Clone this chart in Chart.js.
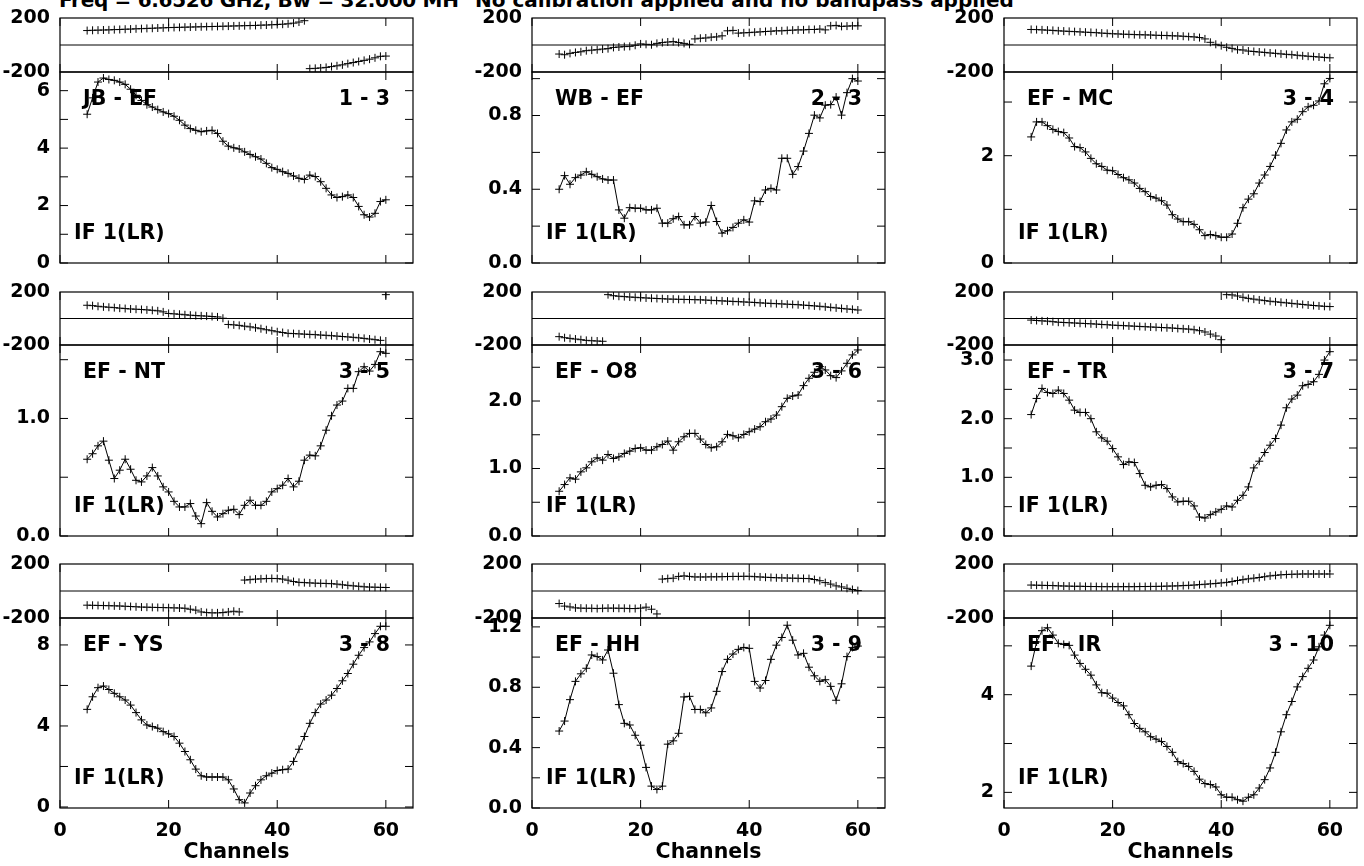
<!DOCTYPE html>
<html>
<head>
<meta charset="utf-8">
<script src="https://cdn.jsdelivr.net/npm/chart.js@4.4.0/dist/chart.umd.min.js"></script>
<style>
  body { margin: 0; background: #fff; width: 1364px; height: 866px; overflow: hidden; position: relative;
         font-family: "DejaVu Sans", sans-serif; font-weight: bold; color: #000; }
  canvas { position: absolute; }
  .lbl { position: absolute; font-size: 20.5px; line-height: 20.5px; white-space: nowrap; }
  .ttl { position: absolute; font-size: 20px; line-height: 20px; white-space: nowrap; top: -10px; }
</style>
</head>
<body>
<div class="ttl" style="left:59px; letter-spacing:-0.3px;">Freq = 6.6526 GHz, Bw = 32.000 MH</div>
<div class="ttl" style="left:475px;">No calibration applied and no bandpass applied</div>
<script>
// Channels
const channels = [5,6,7,8,9,10,11,12,13,14,15,16,17,18,19,20,21,22,23,24,25,26,27,28,29,30,
  31,32,33,34,35,36,37,38,39,40,41,42,43,44,45,46,47,48,49,50,51,52,53,54,55,56,57,58,59,60];

// Baselines
const pairNames = ['JB - EF', 'WB - EF', 'EF - MC', 'EF - NT', 'EF - O8', 'EF - TR', 'EF - YS', 'EF - HH', 'EF - IR'];
const pairNums = ['1 - 3', '2 - 3', '3 - 4', '3 - 5', '3 - 6', '3 - 7', '3 - 8', '3 - 9', '3 - 10'];

// Amplitude axis ranges and ticks
const ampMin = [0, 0, 0, 0, 0, 0, -0.05, 0, 1.68];
const ampMax = [6.65, 1.036, 3.56, 1.625, 2.83, 3.256, 9.33, 1.259, 5.57];
const ampStep = [1, 0.2, 1, 0.5, 0.5, 0.5, 2, 0.2, 1];
const ampDecimals = [0, 1, 0, 1, 1, 1, 0, 1, 0];
const phaseTicks = [-200, 0, 200];
const xTicks = [0, 20, 40, 60];

// Amplitudes
const ampJBEF = [5.18,5.75,6.30,6.44,6.39,6.36,6.30,6.22,6.05,5.84,5.66,5.51,5.43,5.34,5.26,5.20,5.11,4.97,4.80,4.68,
  4.62,4.57,4.60,4.62,4.51,4.24,4.07,4.01,3.97,3.87,3.78,3.70,3.62,3.47,3.32,3.26,3.18,3.12,3.03,2.95,
  2.91,3.06,3.01,2.83,2.60,2.37,2.28,2.31,2.37,2.28,1.97,1.68,1.60,1.73,2.14,2.20];
const ampWBEF = [0.40,0.474,0.427,0.463,0.477,0.495,0.481,0.468,0.456,0.45,0.45,0.288,0.243,0.30,0.297,0.297,0.288,0.288,0.297,0.216,
  0.216,0.24,0.252,0.207,0.207,0.252,0.216,0.222,0.312,0.225,0.162,0.175,0.193,0.216,0.234,0.222,0.337,0.333,0.396,0.405,
  0.396,0.568,0.568,0.481,0.523,0.607,0.703,0.802,0.787,0.856,0.859,0.90,0.802,0.924,1.0,0.987];
const ampEFMC = [2.35,2.63,2.63,2.56,2.49,2.45,2.43,2.33,2.17,2.15,2.07,1.95,1.85,1.80,1.73,1.72,1.65,1.59,1.55,1.49,
  1.39,1.33,1.24,1.21,1.16,1.08,0.90,0.82,0.77,0.77,0.72,0.62,0.51,0.53,0.51,0.48,0.48,0.54,0.74,1.03,
  1.19,1.29,1.49,1.64,1.80,2.01,2.23,2.48,2.63,2.68,2.82,2.91,2.94,3.02,3.34,3.44];
const ampEFNT = [0.653,0.70,0.767,0.807,0.645,0.489,0.56,0.653,0.568,0.474,0.46,0.511,0.582,0.511,0.418,0.375,0.295,0.247,0.247,0.276,
  0.17,0.105,0.284,0.21,0.162,0.19,0.219,0.227,0.182,0.261,0.304,0.261,0.261,0.295,0.375,0.403,0.432,0.489,0.418,0.466,
  0.645,0.688,0.682,0.767,0.90,1.023,1.114,1.148,1.256,1.256,1.398,1.44,1.403,1.46,1.568,1.554];
const ampEFO8 = [0.663,0.762,0.861,0.842,0.95,1.01,1.099,1.158,1.124,1.208,1.149,1.173,1.223,1.257,1.297,1.307,1.272,1.272,1.322,1.356,
  1.406,1.272,1.396,1.47,1.52,1.52,1.436,1.356,1.307,1.322,1.396,1.505,1.485,1.455,1.505,1.545,1.584,1.619,1.693,1.733,
  1.792,1.916,2.04,2.074,2.089,2.228,2.337,2.426,2.51,2.46,2.376,2.347,2.446,2.559,2.683,2.757];
const ampEFTR = [2.07,2.345,2.516,2.447,2.43,2.487,2.43,2.316,2.146,2.106,2.106,2.0,1.776,1.673,1.616,1.49,1.349,1.218,1.264,1.252,
  1.064,0.865,0.837,0.865,0.876,0.808,0.666,0.581,0.592,0.592,0.512,0.324,0.307,0.364,0.41,0.455,0.512,0.495,0.609,0.694,
  0.837,1.161,1.275,1.423,1.548,1.662,1.89,2.186,2.334,2.402,2.561,2.584,2.63,2.755,2.999,3.142];
const ampEFYS = [4.82,5.44,5.89,5.97,5.80,5.61,5.44,5.28,5.03,4.66,4.30,4.05,3.97,3.89,3.72,3.61,3.48,3.15,2.74,2.33,
  1.87,1.54,1.48,1.48,1.48,1.48,1.34,0.89,0.36,0.20,0.69,1.05,1.34,1.54,1.67,1.80,1.84,1.87,2.25,2.85,
  3.48,4.13,4.66,5.08,5.28,5.52,5.85,6.23,6.59,7.05,7.49,7.87,8.15,8.56,8.92,8.92];
const ampEFHH = [0.51,0.576,0.718,0.839,0.889,0.926,1.014,1.003,0.981,1.047,0.893,0.685,0.561,0.55,0.482,0.416,0.269,0.145,0.123,0.145,
  0.423,0.445,0.495,0.736,0.74,0.653,0.653,0.631,0.663,0.773,0.904,0.985,1.02,1.051,1.064,1.058,0.839,0.795,0.845,0.985,
  1.079,1.13,1.211,1.112,1.014,1.025,0.933,0.876,0.839,0.85,0.806,0.714,0.823,1.003,1.064,1.073];
const ampEFIR = [4.585,5.08,5.31,5.37,5.22,5.05,5.03,5.01,4.81,4.64,4.52,4.40,4.20,4.04,4.03,3.93,3.84,3.77,3.59,3.41,
  3.31,3.24,3.14,3.09,3.04,2.94,2.82,2.63,2.59,2.53,2.43,2.27,2.18,2.16,2.11,1.95,1.90,1.90,1.85,1.82,
  1.90,1.95,2.09,2.26,2.50,2.82,3.24,3.59,3.86,4.16,4.37,4.54,4.71,4.98,5.22,5.42];

// Phases (degrees)
const phJBEF = [107,109,110,111,112,114,115,117,118,120,121,123,124,126,127,129,130,131,132,133,
  134,135,136,137,138,139,140,141,142,143,144,145,147,148,150,152,154,157,162,170,
  180,-175,-173,-170,-166,-160,-154,-147,-138,-130,-122,-114,-105,-95,-84,-82];
const phWBEF = [-67,-72,-62,-55,-50,-42,-38,-35,-30,-27,-18,-15,-12,-10,-2,8,5,2,12,18,
  22,25,18,12,5,45,50,52,58,60,68,105,108,88,90,92,95,97,100,102,
  105,105,108,110,112,112,115,115,118,112,142,145,138,140,142,142];
const phEFMC = [115,114,112,110,108,105,103,101,99,97,95,93,91,88,86,83,82,80,79,77,
  76,75,74,72,71,70,68,67,65,62,60,55,45,20,5,-5,-17,-25,-35,-37,
  -45,-48,-52,-55,-59,-62,-66,-69,-72,-76,-80,-83,-86,-89,-92,-95];
const phEFNT = [100,97,92,88,85,82,78,75,72,70,68,65,62,58,50,38,35,32,28,25,
  22,20,18,15,12,2,-45,-48,-52,-58,-63,-70,-77,-85,-92,-100,-106,-112,-114,-116,
  -118,-120,-122,-125,-127,-130,-133,-136,-139,-142,-146,-150,-155,-160,-165,180];
const phEFO8 = [-137,-145,-150,-155,-160,-165,-168,-170,-172,180,172,168,165,162,160,157,155,153,151,149,
  147,146,145,144,143,142,141,139,137,135,133,131,129,127,125,123,121,118,116,114,
  112,110,108,106,104,101,98,95,92,88,84,80,76,72,69,64];
const phEFTR = [-12,-15,-18,-20,-24,-28,-30,-32,-34,-36,-38,-40,-42,-45,-47,-50,-52,-54,-56,-58,
  -60,-62,-64,-66,-68,-70,-72,-75,-78,-80,-85,-92,-102,-118,-132,-160,180,178,170,160,
  152,146,140,135,130,126,122,118,114,110,106,102,98,95,92,90];
const phEFYS = [-105,-106,-107,-108,-109,-110,-111,-113,-115,-117,-119,-120,-121,-122,-123,-124,-125,-126,-128,-135,
  -142,-155,-160,-162,-162,-160,-155,-150,-155,81,84,88,90,92,93,92,88,80,70,64,
  62,60,58,57,56,54,51,46,42,38,35,31,29,28,27,26];
const phEFHH = [-93,-112,-118,-125,-127,-128,-128,-130,-128,-127,-127,-128,-128,-130,-130,-127,-120,-135,-170,88,
  92,95,108,112,108,104,104,104,105,105,106,107,108,108,109,109,106,104,102,100,
  98,97,96,95,94,93,92,85,76,62,51,38,30,20,11,3];
const phEFIR = [44,43,42,41,40,38,37,36,35,35,34,33,33,32,32,32,32,32,32,32,
  33,33,34,34,35,36,37,38,40,42,44,47,50,53,56,60,64,70,78,84,
  90,95,100,106,112,116,120,122,124,125,126,126,126,126,126,126];

const ampSeries = [ampJBEF, ampWBEF, ampEFMC, ampEFNT, ampEFO8, ampEFTR, ampEFYS, ampEFHH, ampEFIR];
const phaseSeries = [phJBEF, phWBEF, phEFMC, phEFNT, phEFO8, phEFTR, phEFYS, phEFHH, phEFIR];

// Layout (page pixels)
const colLeft = [60, 532, 1004];
const plotW = 353;
const phaseTop = [18, 292, 564];
const ampTop = [72, 345, 618];
const ampBot = [263, 536, 808];
const LEFT = 60, PADR = 12, PAD = 24, XAXIS_H = 57, TICK = 8;

const tickFont = { family: 'DejaVu Sans', size: 19, weight: 'bold' };
const titleFont = { family: 'DejaVu Sans', size: 20.5, weight: 'bold' };

// frame box, inward ticks, phase zero line
const frameTicks = {
  id: 'frameTicks',
  afterDatasetsDraw(chart, args, opts) {
    const { ctx, chartArea: a } = chart;
    const xs = chart.scales.x, ys = chart.scales.y;
    ctx.save();
    ctx.strokeStyle = '#000';
    ctx.lineWidth = 1;
    ctx.beginPath();
    xs.ticks.forEach(t => {
      const px = xs.getPixelForValue(t.value);
      ctx.moveTo(px, a.top); ctx.lineTo(px, a.top + TICK);
      ctx.moveTo(px, a.bottom); ctx.lineTo(px, a.bottom - TICK);
    });
    if (opts.phase) {
      const py = ys.getPixelForValue(0);
      ctx.moveTo(a.left, py); ctx.lineTo(a.right, py);
    } else {
      ys.ticks.forEach(t => {
        const py = ys.getPixelForValue(t.value);
        ctx.moveTo(a.left, py); ctx.lineTo(a.left + TICK, py);
        ctx.moveTo(a.right, py); ctx.lineTo(a.right - TICK, py);
      });
    }
    ctx.stroke();
    ctx.lineWidth = 1.2;
    ctx.strokeRect(a.left, a.top, a.right - a.left, a.bottom - a.top);
    ctx.restore();
  }
};

function addCanvas(left, top, w, h) {
  const cv = document.createElement('canvas');
  cv.width = w; cv.height = h;
  cv.style.left = left + 'px'; cv.style.top = top + 'px';
  cv.style.width = w + 'px'; cv.style.height = h + 'px';
  document.body.appendChild(cv);
  return cv;
}

function addLabel(text, x, capCenter, alignRight) {
  const d = document.createElement('div');
  d.className = 'lbl';
  d.textContent = text;
  d.style.top = (capCenter - 10) + 'px';
  if (alignRight) d.style.right = (1364 - x) + 'px'; else d.style.left = x + 'px';
  document.body.appendChild(d);
}

function makePanel(i, isPhase) {
  const col = i % 3, row = Math.floor(i / 3);
  const bottomRow = !isPhase && row === 2;
  const top = isPhase ? phaseTop[row] : ampTop[row];
  const bot = isPhase ? ampTop[row] : ampBot[row];
  const h = PAD + (bot - top) + (bottomRow ? XAXIS_H : PAD);
  const cv = addCanvas(colLeft[col] - LEFT, top - PAD, LEFT + plotW + PADR, h);
  const vals = isPhase ? phaseSeries[i] : ampSeries[i];
  const step = ampStep[i], dec = ampDecimals[i];

  new Chart(cv, {
    type: 'line',
    data: {
      datasets: [{
        data: channels.map((c, k) => ({ x: c, y: vals[k] })),
        showLine: !isPhase,
        borderColor: '#000',
        borderWidth: 1,
        tension: 0,
        pointStyle: 'cross',
        pointRadius: 4,
        pointBorderColor: '#000',
        pointBorderWidth: 1
      }]
    },
    options: {
      responsive: false,
      animation: false,
      events: [],
      layout: { padding: { left: 0, right: PADR, top: PAD, bottom: bottomRow ? 0 : PAD } },
      plugins: {
        legend: { display: false },
        tooltip: { enabled: false },
        frameTicks: { phase: isPhase }
      },
      scales: {
        x: {
          type: 'linear', min: 0, max: 65,
          afterBuildTicks: s => { s.ticks = xTicks.map(v => ({ value: v })); },
          ticks: { display: bottomRow, font: tickFont, color: '#000', padding: 12, maxRotation: 0, autoSkip: false },
          grid: { display: false, drawTicks: false },
          border: { display: false },
          title: { display: bottomRow, text: 'Channels', font: titleFont, color: '#000', padding: 0 },
          afterFit: s => { s.height = bottomRow ? XAXIS_H : 0; }
        },
        y: isPhase ? {
          type: 'linear', min: -200, max: 200,
          afterBuildTicks: s => { s.ticks = phaseTicks.map(v => ({ value: v })); },
          ticks: { font: tickFont, color: '#000', padding: 10, autoSkip: false,
                   callback: v => (v === 0 ? '' : String(v)) },
          grid: { display: false, drawTicks: false },
          border: { display: false },
          afterFit: s => { s.width = LEFT; }
        } : {
          type: 'linear', min: ampMin[i], max: ampMax[i],
          ticks: { stepSize: step, includeBounds: false, font: tickFont, color: '#000', padding: 10, autoSkip: false,
                   callback: v => (Math.round(v / step) % 2 === 0 ? (Math.abs(v) < 1e-9 ? 0 : v).toFixed(dec) : '') },
          grid: { display: false, drawTicks: false },
          border: { display: false },
          afterFit: s => { s.width = LEFT; }
        }
      }
    },
    plugins: [frameTicks]
  });

  if (!isPhase) {
    addLabel(pairNames[i], colLeft[col] + 23, ampTop[row] + 26, false);
    addLabel(pairNums[i], colLeft[col] + plotW - 23, ampTop[row] + 26, true);
    addLabel('IF 1(LR)', colLeft[col] + 14, ampBot[row] - 31, false);
  }
}

for (let i = 0; i < 9; i++) {
  makePanel(i, true);
  makePanel(i, false);
}
</script>
</body>
</html>
